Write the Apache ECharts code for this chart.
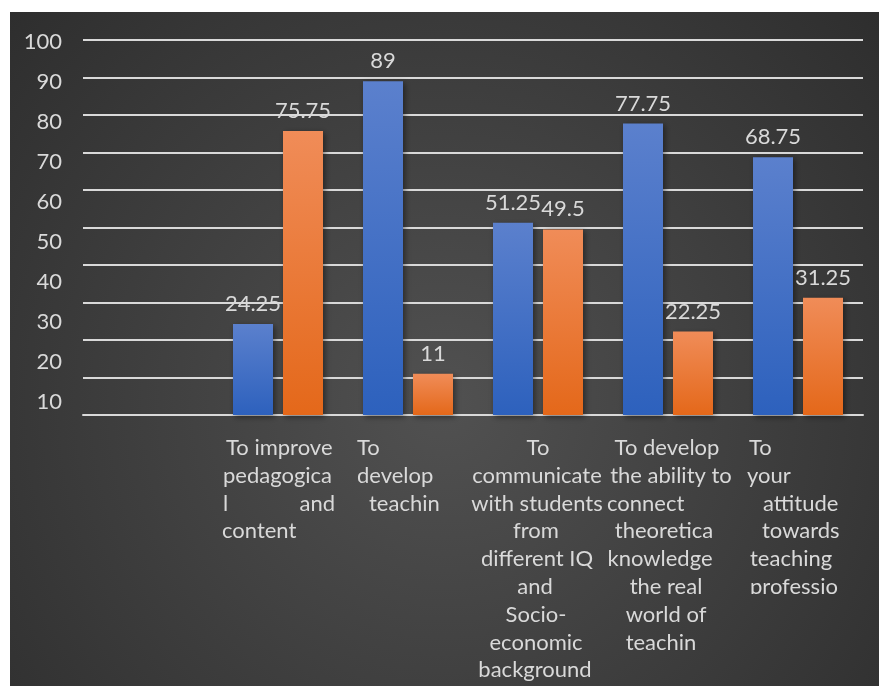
<!DOCTYPE html>
<html>
<head>
<meta charset="utf-8">
<script src="https://cdn.jsdelivr.net/npm/echarts@6/dist/echarts.min.js"></script>
<style>
  html, body { margin: 0; padding: 0; background: #ffffff; }
  #chart { width: 879px; height: 686px; }
</style>
</head>
<body>
<div id="chart"></div>
<script>
// ---- data ----
const categories = [
  '',
  'To improve pedagogical and content',
  'To develop teachin',
  'To communicate with students from different IQ and Socio-economic background',
  'To develop the ability to connect theoretica knowledge the real world of teachin',
  'To your attitude towards teaching professio'
];
// wrapped category label lines ("a|b" = a line split into a left and a right part)
const categoryLines = [
  [],
  ['To improve', 'pedagogica', 'l|and', 'content'],
  ['To', 'develop', 'teachin'],
  ['To', 'communicate', 'with students', 'from', 'different IQ', 'and', 'Socio-', 'economic', 'background'],
  ['To develop', 'the ability to', 'connect', 'theoretica', 'knowledge', 'the real', 'world of', 'teachin'],
  ['To', 'your', 'attitude', 'towards', 'teaching', 'professio']
];
const seriesBlue = [null, 24.25, 89, 51.25, 77.75, 68.75];
const seriesOrange = [null, 75.75, 11, 49.5, 22.25, 31.25];
const yTickMin = 10;
const yTickMax = 100;
const yTickStep = 10;

// ---- label line placement inside each 130px label box ----
// ['l', dx]  : left aligned, dx px from box left
// ['c', dx]  : centred, shifted dx px
// ['j', l, r]: justified pair, l px from left edge, r px from right edge
const lineLayout = [
  [],
  [['l', 13], ['l', 10], ['j', 10, 8], ['l', 9]],
  [['l', 14], ['l', 14], ['l', 26]],
  [['c', 0], ['c', -1], ['c', -1], ['c', -2], ['c', -1], ['c', -3], ['c', -2], ['c', -2], ['c', -3]],
  [['c', -1], ['c', 3], ['l', 4], ['c', -4], ['c', -8], ['c', -2], ['c', -2], ['c', -7]],
  [['l', 16], ['l', 14], ['l', 30], ['l', 29], ['l', 17], ['l', 17]]
];

const FONT = 'Lato';
const TEXT_COLOR = '#d9d9d9';
const LABEL_SIZE = 22;
const LINE_H = 27.8;

const base = { fontFamily: FONT, fontSize: LABEL_SIZE, color: TEXT_COLOR, lineHeight: LINE_H };
const rich = {
  tl: Object.assign({ align: 'left' }, base),
  tc: Object.assign({ align: 'center' }, base),
  tr: Object.assign({ align: 'right' }, base)
};
function spacer(side, w) {
  const key = 's' + side + Math.round(w * 10);
  if (!rich[key]) rich[key] = Object.assign({ width: w, align: side === 'l' ? 'left' : 'right' }, base);
  return '{' + key + '| }';
}
function buildLabel(idx) {
  const lines = categoryLines[idx];
  const lay = lineLayout[idx];
  return lines.map(function (text, i) {
    const spec = lay[i];
    if (spec[0] === 'l') {
      return (spec[1] > 0 ? spacer('l', spec[1]) : '') + '{tl|' + text + '}';
    }
    if (spec[0] === 'j') {
      const parts = text.split('|');
      return spacer('l', spec[1]) + '{tl|' + parts[0] + '}' + '{tr|' + parts[1] + '}' + spacer('r', spec[2]);
    }
    const dx = spec[1];
    if (dx > 0) return spacer('l', 2 * dx) + '{tc|' + text + '}';
    if (dx < 0) return '{tc|' + text + '}' + spacer('r', -2 * dx);
    return '{tc|' + text + '}';
  }).join('\n');
}
const labelTexts = categories.map(function (c, i) { return buildLabel(i); });

function barGradient(top, bottom) {
  return new echarts.graphic.LinearGradient(0, 0, 0, 1, [
    { offset: 0, color: top },
    { offset: 1, color: bottom }
  ]);
}
// plot-area backdrop: one radial gradient in page pixels, shared by the
// backdrop and by the strip that clips the last label's text box
function backdrop() {
  return new echarts.graphic.RadialGradient(444, 403, 650, [
    { offset: 0, color: '#515151' },
    { offset: 1, color: '#2a2a2a' }
  ], true);
}
const barShadow = { shadowColor: 'rgba(0,0,0,0.45)', shadowBlur: 6, shadowOffsetX: 2, shadowOffsetY: 2 };
const valueLabel = {
  show: true, position: 'top', distance: 9,
  fontFamily: FONT, fontSize: LABEL_SIZE, color: TEXT_COLOR
};

const chart = echarts.init(document.getElementById('chart'), null, { renderer: 'canvas' });
chart.setOption({
  backgroundColor: '#ffffff',
  animation: false,
  graphic: [{
    type: 'rect', silent: true, z: -100,
    shape: { x: 10, y: 12, width: 869, height: 674 },
    style: { fill: backdrop() }
  }, {
    // bottom edge of the last category's label box
    type: 'rect', silent: true, z: 100,
    shape: { x: 740, y: 594, width: 110, height: 20 },
    style: { fill: backdrop() }
  }],
  grid: [
    { left: 83, top: 40, width: 780, height: 375 },
    { left: 83, top: 42, width: 780, height: 360 }
  ],
  xAxis: [{
    type: 'category', gridIndex: 0, data: categories,
    axisLine: { show: true, lineStyle: { color: '#d9d9d9', width: 2 } },
    axisTick: { show: false },
    axisLabel: {
      interval: 0, hideOverlap: false, margin: 19, width: 130, overflow: 'none',
      formatter: function (v, i) { return labelTexts[i]; },
      rich: rich
    }
  }, {
    type: 'value', gridIndex: 1, show: false
  }],
  yAxis: [{
    type: 'value', gridIndex: 0, min: 0, max: 100, interval: 10,
    axisLine: { show: false }, axisTick: { show: false }, axisLabel: { show: false },
    splitLine: { show: true, lineStyle: { color: '#d9d9d9', width: 2 } }
  }, {
    type: 'value', gridIndex: 1, min: yTickMin, max: yTickMax, interval: yTickStep,
    axisLine: { show: false }, axisTick: { show: false }, splitLine: { show: false },
    axisLabel: { margin: 21, fontFamily: FONT, fontSize: LABEL_SIZE, color: TEXT_COLOR }
  }],
  series: [{
    name: 'Series 1', type: 'bar', xAxisIndex: 0, yAxisIndex: 0,
    data: seriesBlue, barWidth: 40, barGap: '25%',
    itemStyle: Object.assign({ color: barGradient('#5b80cd', '#2d61bd') }, barShadow),
    label: valueLabel
  }, {
    name: 'Series 2', type: 'bar', xAxisIndex: 0, yAxisIndex: 0,
    data: seriesOrange, barWidth: 40, barGap: '25%',
    itemStyle: Object.assign({ color: barGradient('#f08c58', '#e4681a') }, barShadow),
    label: valueLabel
  }]
});
</script>
</body>
</html>
